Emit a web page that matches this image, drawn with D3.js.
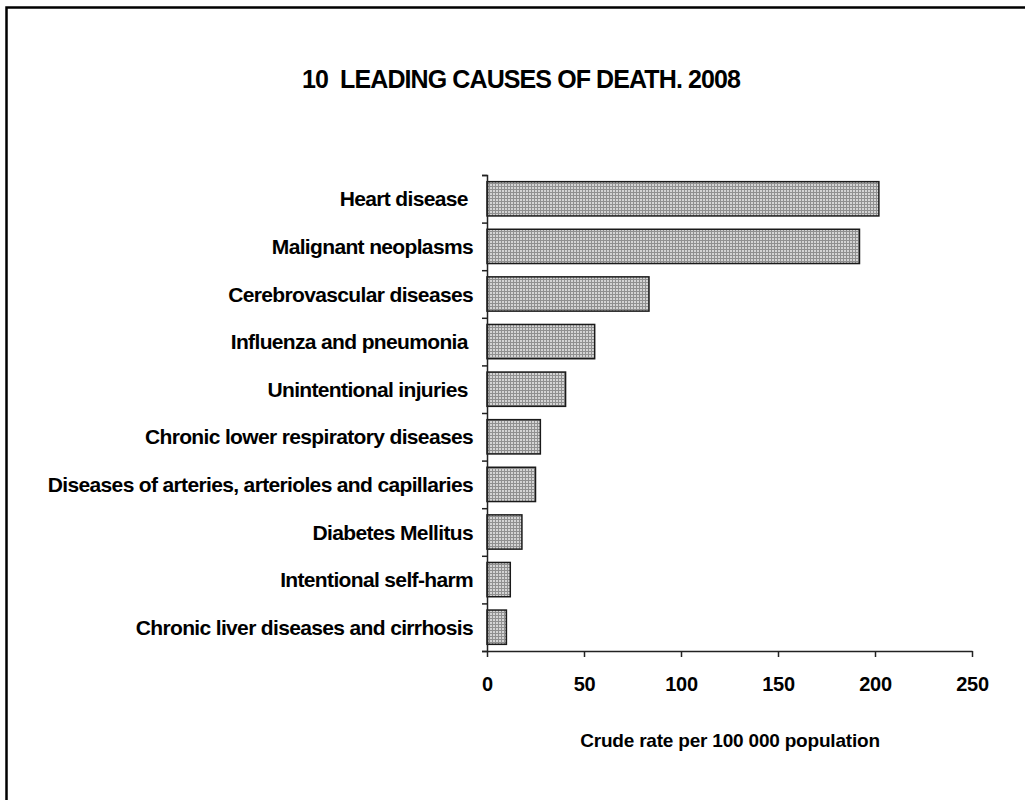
<!DOCTYPE html>
<html>
<head>
<meta charset="utf-8">
<script src="https://cdn.jsdelivr.net/npm/d3@7"></script>
<style>
  body { margin: 0; background: #fff; }
  text { font-family: "Liberation Sans", Arial, sans-serif; font-weight: bold; fill: #000; }
</style>
</head>
<body>
<div id="chart"></div>
<script>
// data
const causes = [
  "Heart disease ",
  "Malignant neoplasms",
  "Cerebrovascular diseases",
  "Influenza and pneumonia ",
  "Unintentional injuries ",
  "Chronic lower respiratory diseases",
  "Diseases of arteries, arterioles and capillaries",
  "Diabetes Mellitus",
  "Intentional self-harm",
  "Chronic liver diseases and cirrhosis"
];
const rates = [202, 192, 83.5, 55.5, 40.5, 27.5, 25, 18, 12, 10];
const xTicks = [0, 50, 100, 150, 200, 250];
const title = "10  LEADING CAUSES OF DEATH. 2008";
const xTitle = "Crude rate per 100 000 population";

const data = causes.map((c, i) => ({ name: c, value: rates[i] }));

const width = 1025, height = 800;

const svg = d3.select("#chart").append("svg")
  .attr("width", width)
  .attr("height", height);

// frame round the chart (runs off the right and bottom edge)
svg.append("rect")
  .attr("x", 6.5).attr("y", 7.5)
  .attr("width", 1040).attr("height", 820)
  .attr("fill", "none")
  .attr("stroke", "#000")
  .attr("stroke-width", 2.5);

// dotted grey fill of the bars
const pat = svg.append("defs").append("pattern")
  .attr("id", "dots")
  .attr("patternUnits", "userSpaceOnUse")
  .attr("width", 3).attr("height", 3);
pat.append("rect").attr("width", 3).attr("height", 3).attr("fill", "#d4d4d4");
pat.append("rect").attr("width", 1).attr("height", 3).attr("fill", "#909090");
pat.append("rect").attr("width", 3).attr("height", 1).attr("fill", "#909090");

// scales
const xScale = d3.scaleLinear()
  .domain([0, 250])
  .range([487, 972]);

const yScale = d3.scaleBand()
  .domain(causes)
  .range([175, 651])
  .paddingInner(0.28)
  .paddingOuter(0.14);

// tick marks between categories
const yTickScale = d3.scaleLinear()
  .domain([0, causes.length])
  .range([175, 651]);

// title
svg.append("text")
  .attr("x", 521).attr("y", 88)
  .attr("text-anchor", "middle")
  .attr("xml:space", "preserve")
  .style("font-size", "25px")
  .style("letter-spacing", "-0.9px")
  .text(title);

// bars
svg.selectAll(".bar")
  .data(data)
  .enter()
  .append("rect")
    .attr("class", "bar")
    .attr("x", xScale(0))
    .attr("y", d => yScale(d.name))
    .attr("width", d => xScale(d.value) - xScale(0))
    .attr("height", yScale.bandwidth())
    .attr("fill", "url(#dots)")
    .attr("stroke", "#1a1a1a")
    .attr("stroke-width", 1.5);

// y axis: line and ticks at band edges
const yAxis = d3.axisLeft(yTickScale)
  .ticks(causes.length)
  .tickSize(5)
  .tickFormat("");

svg.append("g")
  .attr("class", "axis")
  .attr("transform", `translate(${ xScale(0) }, 0)`)
  .call(yAxis)
  .call(g => g.selectAll("path, line").attr("stroke", "#222").attr("stroke-width", 1.5));

// category labels
svg.selectAll(".cat")
  .data(data)
  .enter()
  .append("text")
    .attr("class", "cat")
    .attr("x", 473)
    .attr("y", d => yScale(d.name) + yScale.bandwidth() / 2)
    .attr("dy", "0.36em")
    .attr("text-anchor", "end")
    .attr("xml:space", "preserve")
    .style("font-size", "21px")
    .style("letter-spacing", "-0.65px")
    .text(d => d.name);

// x axis
const xAxis = d3.axisBottom(xScale)
  .tickValues(xTicks)
  .tickSize(6)
  .tickSizeOuter(0)
  .tickPadding(20);

svg.append("g")
  .attr("class", "axis")
  .attr("transform", `translate(0, 651)`)
  .call(xAxis)
  .call(g => g.selectAll("path, line").attr("stroke", "#222").attr("stroke-width", 1.5))
  .call(g => g.selectAll("text")
    .style("font-size", "20px")
    .style("letter-spacing", "-0.3px")
    .attr("fill", "#000"));

// x axis title
svg.append("text")
  .attr("x", 730).attr("y", 747)
  .attr("text-anchor", "middle")
  .style("font-size", "19px")
  .style("letter-spacing", "-0.2px")
  .text(xTitle);
</script>
</body>
</html>
